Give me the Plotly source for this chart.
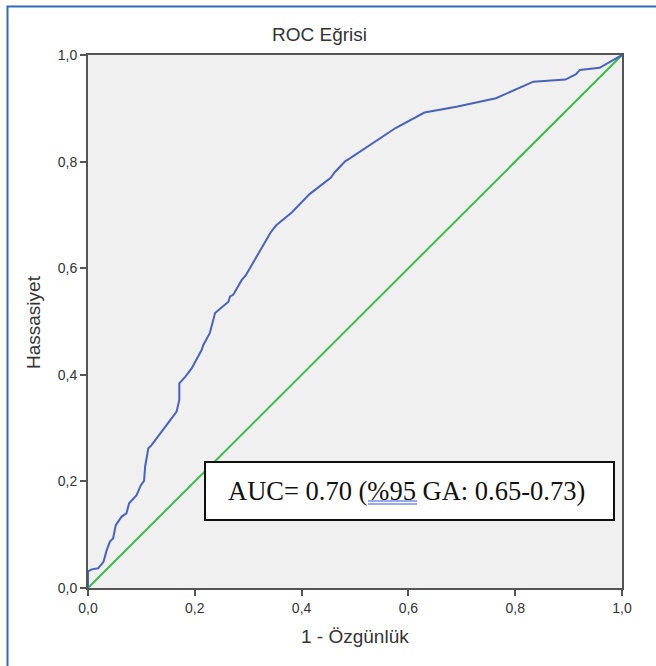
import plotly.graph_objects as go

# ROC curve data (1 - specificity, sensitivity)
fpr = [0, 0, 0.007, 0.019, 0.029, 0.035, 0.041, 0.047, 0.052, 0.063, 0.072, 0.077,
       0.091, 0.099, 0.105, 0.107, 0.113, 0.119, 0.154, 0.166, 0.171, 0.171, 0.182,
       0.194, 0.213, 0.216, 0.228, 0.238, 0.263, 0.266, 0.272, 0.288, 0.295, 0.342,
       0.352, 0.382, 0.415, 0.455, 0.462, 0.482, 0.489, 0.576, 0.630, 0.690, 0.764,
       0.824, 0.834, 0.894, 0.914, 0.921, 0.958, 1.0]
tpr = [0, 0.031, 0.035, 0.037, 0.049, 0.071, 0.087, 0.093, 0.118, 0.134, 0.140, 0.159,
       0.174, 0.193, 0.201, 0.228, 0.262, 0.268, 0.315, 0.331, 0.353, 0.384, 0.396,
       0.412, 0.447, 0.456, 0.478, 0.516, 0.537, 0.547, 0.550, 0.578, 0.586, 0.667,
       0.680, 0.705, 0.739, 0.770, 0.780, 0.801, 0.805, 0.863, 0.892, 0.903, 0.919,
       0.945, 0.950, 0.954, 0.964, 0.972, 0.976, 1.0]
ref_x = [0, 1]
ref_y = [0, 1]
tick_vals = [0, 0.2, 0.4, 0.6, 0.8, 1.0]
title_text = "ROC Eğrisi"
x_title = "1 - Özgünlük"
y_title = "Hassasiyet"
auc_text = "AUC= 0.70 (%95 GA: 0.65-0.73)"

fig = go.Figure()
fig.add_trace(go.Scatter(x=ref_x, y=ref_y, mode="lines",
                         line=dict(color="#3dbb4a", width=2), showlegend=False))
fig.add_trace(go.Scatter(x=fpr, y=tpr, mode="lines",
                         line=dict(color="#4a63b8", width=2), showlegend=False))

W, H = 656, 666
# plot area in page pixels: x 88..622, y 55..588
L, T = 88, 55
R = W - 622
B = H - 588
pw, ph = W - L - R, H - T - B

def px(x):  # page pixel -> paper fraction
    return (x - L) / pw

def py(y):
    return (H - B - y) / ph

FONT = "Liberation Sans, Arial"
axis_common = dict(
    range=[0, 1], tickvals=tick_vals, tickformat=".1f",
    showgrid=False, zeroline=False, showline=True, mirror=True,
    linecolor="#555555", linewidth=2, ticks="outside", ticklen=6,
    tickcolor="#555555", tickwidth=1.5,
    tickfont=dict(family=FONT, size=14, color="#333333"),
    fixedrange=True,
)

fig.update_layout(
    width=W, height=H,
    margin=dict(l=L, r=R, t=T, b=B),
    paper_bgcolor="white", plot_bgcolor="#f0f0f0",
    separators=",.",
    xaxis=axis_common,
    yaxis=axis_common,
    font=dict(family=FONT, color="#333333"),
)

ann = dict(xref="paper", yref="paper", showarrow=False,
           xanchor="center", yanchor="middle")
# title and axis titles
fig.add_annotation(text=title_text, x=px(319), y=py(34), **ann,
                   font=dict(family=FONT, size=19, color="#333333"))
fig.add_annotation(text=x_title, x=px(355), y=py(636), **ann,
                   font=dict(family=FONT, size=19, color="#333333"))
fig.add_annotation(text=y_title, x=px(33), y=py(322), textangle=-90, **ann,
                   font=dict(family=FONT, size=19, color="#333333"))

# outer blue frame
fig.add_shape(type="rect", xref="paper", yref="paper",
              x0=px(7.5), x1=px(700), y0=py(6.5), y1=py(720),
              line=dict(color="#2f6db5", width=2), layer="above")

# AUC box
fig.add_shape(type="rect", xref="paper", yref="paper",
              x0=px(205), x1=px(614), y0=py(462), y1=py(520),
              line=dict(color="#111111", width=2), fillcolor="white", layer="above")
fig.add_annotation(text=auc_text, x=px(406), y=py(491), **ann,
                   font=dict(family="Liberation Serif, Times New Roman", size=26.5, color="#111111"))
# double underline under "%95"
for yy in (501, 504):
    fig.add_shape(type="line", xref="paper", yref="paper",
                  x0=px(368), x1=px(417), y0=py(yy), y1=py(yy),
                  line=dict(color="#3355dd", width=1), layer="above")

fig.write_html("out.html", config={"displayModeBar": False},
               post_script="document.body.style.margin='0';")
